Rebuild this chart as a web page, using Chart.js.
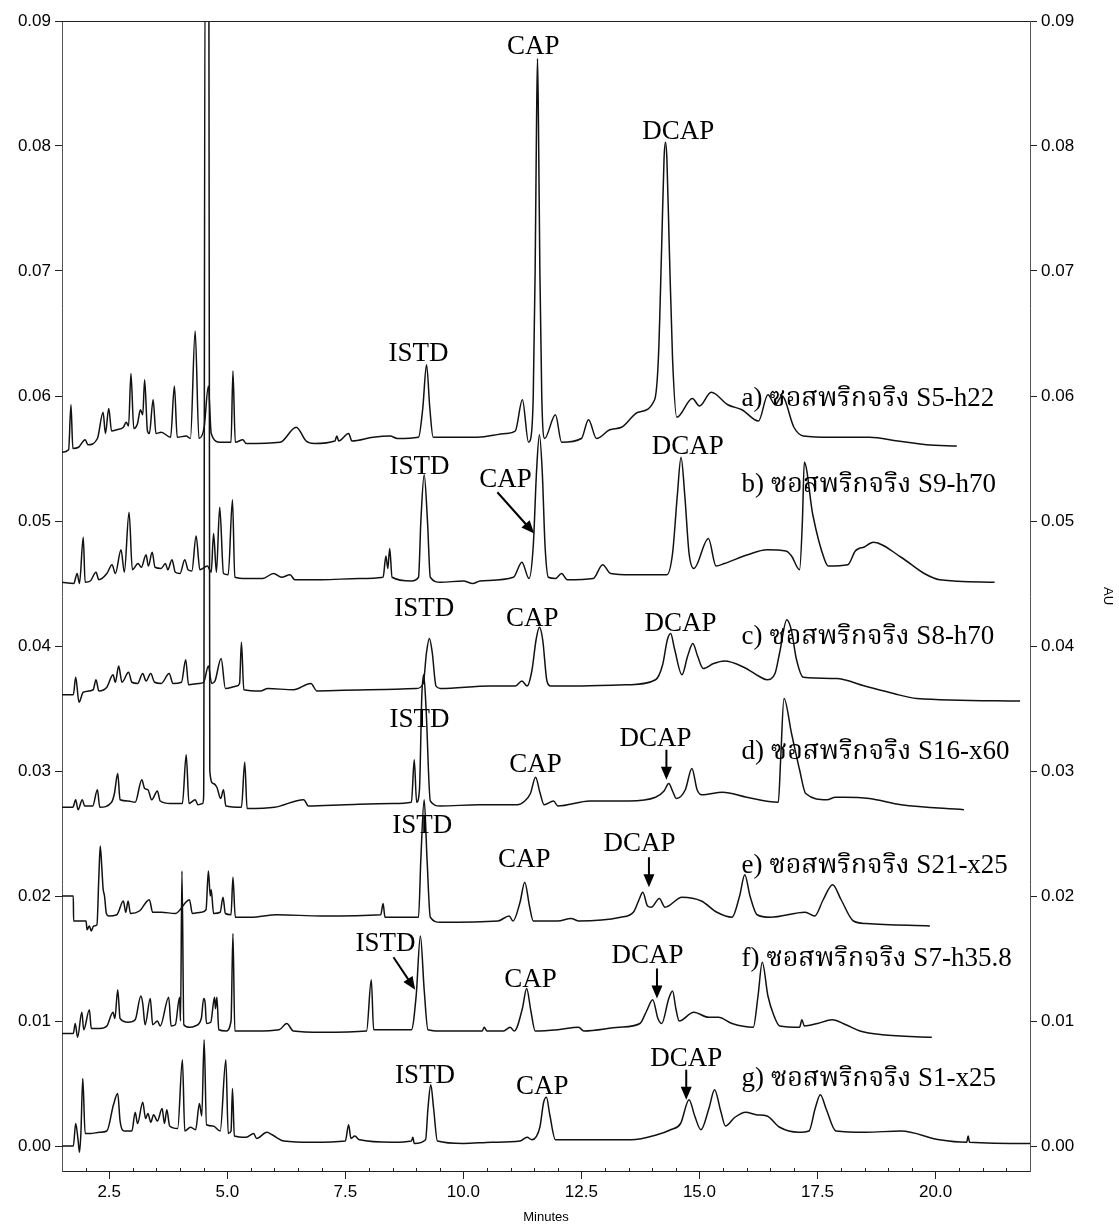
<!DOCTYPE html>
<html>
<head>
<meta charset="utf-8">
<title>HPLC chromatograms</title>
<script src="https://cdn.jsdelivr.net/npm/chart.js@4.4.1/dist/chart.umd.min.js"></script>
<style>
  html, body { margin: 0; padding: 0; background: #fff; }
  #wrap { width: 1119px; height: 1228px; }
</style>
</head>
<body>
<div id="wrap"><canvas id="chart" width="1119" height="1228"></canvas></div>
<script>
// [minutes, AU] pairs, one array per sample
const traceA = [[1.50,0.0555],[1.64,0.0557],[1.69,0.0593],[1.73,0.0558],[1.85,0.0559],[1.99,0.0565],[2.05,0.0561],[2.25,0.0566],[2.37,0.0587],[2.42,0.0570],[2.49,0.0590],[2.55,0.0572],[2.66,0.0573],[2.80,0.0575],[2.86,0.0579],[2.91,0.0576],[2.96,0.0618],[3.02,0.0574],[3.10,0.0578],[3.16,0.0589],[3.21,0.0585],[3.25,0.0613],[3.31,0.0572],[3.35,0.0570],[3.43,0.0597],[3.49,0.0570],[3.60,0.0571],[3.80,0.0567],[3.88,0.0608],[3.94,0.0567],[4.13,0.0568],[4.22,0.0566],[4.32,0.0652],[4.40,0.0566],[4.51,0.0575],[4.60,0.0608],[4.66,0.0570],[4.85,0.0563],[5.08,0.0563],[5.12,0.0620],[5.17,0.0563],[5.33,0.0565],[5.40,0.0562],[6.12,0.0563],[6.46,0.0575],[6.67,0.0564],[6.84,0.0562],[7.28,0.0564],[7.32,0.0568],[7.36,0.0564],[7.57,0.0570],[7.64,0.0564],[8.09,0.0567],[8.45,0.0568],[8.60,0.0566],[9.05,0.0567],[9.14,0.0590],[9.22,0.0625],[9.29,0.0590],[9.36,0.0567],[10.3,0.0567],[10.9,0.0570],[11.10,0.0572],[11.25,0.0597],[11.38,0.0563],[11.42,0.0565],[11.48,0.0600],[11.52,0.0700],[11.55,0.0820],[11.57,0.0870],[11.59,0.0820],[11.62,0.0700],[11.66,0.0600],[11.72,0.0566],[11.95,0.0585],[12.08,0.0563],[12.50,0.0566],[12.65,0.0581],[12.82,0.0566],[13.10,0.0573],[13.35,0.0575],[13.70,0.0587],[14.05,0.0597],[14.13,0.0630],[14.20,0.0720],[14.25,0.0790],[14.28,0.0803],[14.31,0.0790],[14.36,0.0720],[14.43,0.0630],[14.52,0.0583],[14.85,0.0598],[15.00,0.0592],[15.25,0.0603],[15.60,0.0593],[15.90,0.0589],[16.25,0.0580],[16.45,0.0601],[16.60,0.0593],[16.75,0.0600],[17.00,0.0575],[17.20,0.0568],[17.80,0.0567],[18.60,0.0567],[19.20,0.0564],[19.80,0.0561],[20.45,0.0560]];

const traceB = [[1.50,0.0451],[1.75,0.0450],[1.82,0.0458],[1.87,0.0450],[1.95,0.0487],[1.99,0.0451],[2.10,0.0452],[2.22,0.0459],[2.28,0.0453],[2.45,0.0458],[2.56,0.0465],[2.63,0.0458],[2.75,0.0477],[2.82,0.0459],[2.92,0.0507],[2.99,0.0461],[3.11,0.0466],[3.18,0.0463],[3.28,0.0473],[3.33,0.0464],[3.41,0.0475],[3.47,0.0463],[3.60,0.0462],[3.69,0.0466],[3.74,0.0461],[3.83,0.0469],[3.90,0.0459],[4.00,0.0458],[4.10,0.0469],[4.17,0.0461],[4.25,0.0460],[4.34,0.0488],[4.42,0.0461],[4.58,0.0464],[4.66,0.0459],[4.71,0.0490],[4.77,0.0459],[4.84,0.0511],[4.92,0.0458],[5.02,0.0457],[5.11,0.0517],[5.16,0.0455],[5.40,0.0454],[5.75,0.0454],[5.98,0.0458],[6.15,0.0455],[6.33,0.0457],[6.43,0.0453],[7.00,0.0453],[7.80,0.0454],[8.30,0.0455],[8.36,0.0472],[8.40,0.0462],[8.44,0.0478],[8.49,0.0455],[8.90,0.0452],[9.05,0.0455],[9.10,0.0500],[9.17,0.0537],[9.24,0.0500],[9.30,0.0455],[9.51,0.0451],[10.00,0.0452],[10.20,0.0450],[10.35,0.0452],[11.06,0.0455],[11.24,0.0467],[11.39,0.0454],[11.48,0.0480],[11.55,0.0540],[11.61,0.0569],[11.67,0.0540],[11.73,0.0480],[11.80,0.0455],[11.95,0.0454],[12.08,0.0458],[12.20,0.0453],[12.75,0.0454],[12.95,0.0465],[13.12,0.0458],[13.55,0.0457],[14.31,0.0457],[14.43,0.0474],[14.53,0.0520],[14.61,0.0551],[14.69,0.0520],[14.78,0.0474],[14.88,0.0462],[15.19,0.0486],[15.35,0.0464],[15.53,0.0466],[16.02,0.0473],[16.43,0.0477],[16.83,0.0476],[16.95,0.0472],[17.12,0.0461],[17.18,0.0500],[17.22,0.0547],[17.40,0.0505],[17.65,0.0469],[17.73,0.0464],[18.14,0.0465],[18.30,0.0476],[18.38,0.0478],[18.48,0.0479],[18.68,0.0483],[19.27,0.0471],[19.76,0.0458],[20.09,0.0453],[21.25,0.0451]];

const traceC = [[1.50,0.0361],[1.74,0.0361],[1.79,0.0375],[1.86,0.0355],[1.95,0.0363],[2.16,0.0365],[2.22,0.0373],[2.28,0.0364],[2.45,0.0367],[2.58,0.0377],[2.63,0.0371],[2.70,0.0384],[2.77,0.0371],[2.91,0.0379],[2.98,0.0371],[3.10,0.0370],[3.21,0.0378],[3.28,0.0372],[3.38,0.0378],[3.46,0.0371],[3.60,0.0370],[3.77,0.0378],[3.85,0.0370],[4.03,0.0371],[4.12,0.0389],[4.18,0.0369],[4.39,0.0370],[4.50,0.0371],[4.60,0.0384],[4.67,0.0370],[4.74,0.0372],[4.87,0.0390],[4.96,0.0366],[5.20,0.0368],[5.26,0.0370],[5.30,0.0403],[5.35,0.0365],[5.70,0.0364],[5.86,0.0366],[6.40,0.0365],[6.77,0.0370],[6.90,0.0364],[8.00,0.0365],[9.00,0.0366],[9.15,0.0370],[9.22,0.0395],[9.28,0.0406],[9.34,0.0395],[9.42,0.0368],[9.51,0.0366],[10.57,0.0368],[11.10,0.0368],[11.24,0.0372],[11.35,0.0368],[11.45,0.0380],[11.54,0.0405],[11.61,0.0415],[11.68,0.0405],[11.77,0.0372],[11.85,0.0368],[12.50,0.0368],[13.50,0.0369],[14.07,0.0373],[14.22,0.0385],[14.32,0.0405],[14.39,0.0410],[14.47,0.0398],[14.63,0.0377],[14.75,0.0392],[14.86,0.0402],[14.96,0.0392],[15.08,0.0382],[15.30,0.0386],[15.53,0.0388],[15.94,0.0383],[16.25,0.0376],[16.43,0.0373],[16.60,0.0378],[16.70,0.0395],[16.85,0.0421],[16.95,0.0412],[17.05,0.0390],[17.20,0.0375],[17.90,0.0374],[18.50,0.0368],[19.11,0.0362],[19.60,0.0358],[21.79,0.0356]];

const traceD = [[1.50,0.0271],[1.73,0.0271],[1.79,0.0277],[1.84,0.0269],[1.93,0.0277],[1.98,0.0272],[2.15,0.0272],[2.25,0.0285],[2.30,0.0271],[2.55,0.0275],[2.61,0.0282],[2.68,0.0298],[2.73,0.0277],[2.90,0.0276],[3.05,0.0275],[3.19,0.0293],[3.25,0.0286],[3.32,0.0285],[3.40,0.0277],[3.52,0.0284],[3.58,0.0276],[3.80,0.0274],[4.05,0.0274],[4.13,0.0313],[4.19,0.0274],[4.32,0.0277],[4.38,0.0273],[4.48,0.0274],[4.50,0.0280],[4.53,0.0950],[4.61,0.0950],[4.63,0.0300],[4.70,0.0290],[4.78,0.0287],[4.86,0.0278],[4.92,0.0285],[4.97,0.0272],[5.30,0.0271],[5.37,0.0307],[5.42,0.0270],[6.00,0.0271],[6.62,0.0277],[6.72,0.0272],[7.50,0.0273],[8.50,0.0274],[8.90,0.0275],[8.96,0.0309],[9.01,0.0275],[9.07,0.0285],[9.12,0.0360],[9.16,0.0377],[9.21,0.0350],[9.30,0.0276],[9.51,0.0272],[10.33,0.0273],[11.14,0.0273],[11.30,0.0276],[11.42,0.0282],[11.53,0.0295],[11.62,0.0283],[11.71,0.0273],[11.91,0.0276],[12.00,0.0272],[12.68,0.0276],[13.50,0.0276],[14.07,0.0279],[14.25,0.0284],[14.35,0.0290],[14.43,0.0284],[14.51,0.0278],[14.70,0.0285],[14.84,0.0302],[14.95,0.0285],[15.05,0.0281],[15.49,0.0283],[16.00,0.0279],[16.67,0.0275],[16.72,0.0310],[16.79,0.0358],[16.95,0.0330],[17.12,0.0301],[17.25,0.0282],[17.70,0.0277],[17.88,0.0279],[18.05,0.0279],[18.60,0.0278],[19.27,0.0273],[20.60,0.0269]];

const traceE = [[1.50,0.0200],[1.74,0.0200],[1.745,0.0180],[2.01,0.0180],[2.03,0.0173],[2.08,0.0176],[2.12,0.0172],[2.17,0.0176],[2.24,0.0177],[2.28,0.0215],[2.31,0.0240],[2.34,0.0225],[2.37,0.0206],[2.40,0.0200],[2.44,0.0186],[2.49,0.0184],[2.66,0.0185],[2.80,0.0196],[2.85,0.0187],[2.90,0.0196],[2.95,0.0186],[3.14,0.0188],[3.35,0.0197],[3.42,0.0187],[3.60,0.0187],[3.90,0.0186],[4.20,0.0197],[4.26,0.0186],[4.45,0.0187],[4.55,0.0189],[4.60,0.0220],[4.64,0.0200],[4.66,0.0205],[4.71,0.0186],[4.85,0.0187],[4.91,0.0199],[4.96,0.0186],[5.08,0.0185],[5.12,0.0215],[5.17,0.0183],[5.50,0.0183],[6.05,0.0185],[7.00,0.0184],[8.25,0.0185],[8.30,0.0194],[8.34,0.0183],[9.05,0.0183],[9.10,0.0230],[9.17,0.0277],[9.23,0.0230],[9.30,0.0183],[9.51,0.0179],[10.73,0.0180],[10.97,0.0184],[11.05,0.0180],[11.20,0.0195],[11.30,0.0211],[11.40,0.0192],[11.48,0.0180],[12.00,0.0180],[12.28,0.0182],[12.45,0.0180],[13.33,0.0183],[13.60,0.0187],[13.72,0.0197],[13.80,0.0203],[13.90,0.0192],[13.98,0.0191],[14.15,0.0198],[14.27,0.0191],[14.63,0.0199],[15.04,0.0196],[15.37,0.0187],[15.69,0.0183],[15.85,0.0200],[15.96,0.0217],[16.07,0.0200],[16.22,0.0185],[16.50,0.0183],[17.24,0.0187],[17.44,0.0184],[17.62,0.0197],[17.82,0.0209],[18.00,0.0197],[18.26,0.0180],[18.53,0.0178],[19.88,0.0176]];

const traceF = [[1.50,0.0090],[1.74,0.0090],[1.78,0.0098],[1.83,0.0087],[1.92,0.0107],[1.96,0.0093],[2.08,0.0109],[2.12,0.0094],[2.30,0.0094],[2.45,0.0096],[2.58,0.0107],[2.62,0.0102],[2.68,0.0125],[2.73,0.0102],[2.90,0.0099],[3.05,0.0101],[3.17,0.0120],[3.21,0.0114],[3.26,0.0097],[3.37,0.0118],[3.42,0.0097],[3.52,0.0100],[3.58,0.0096],[3.76,0.0119],[3.81,0.0096],[3.90,0.0097],[3.99,0.0119],[4.01,0.0100],[4.04,0.0220],[4.08,0.0097],[4.20,0.0095],[4.32,0.0096],[4.45,0.0102],[4.50,0.0118],[4.53,0.0115],[4.56,0.0098],[4.65,0.0099],[4.73,0.0119],[4.75,0.0110],[4.78,0.0119],[4.82,0.0093],[4.97,0.0092],[5.08,0.0100],[5.12,0.0170],[5.16,0.0092],[5.60,0.0092],[6.10,0.0093],[6.26,0.0098],[6.40,0.0092],[7.00,0.0091],[7.95,0.0092],[8.05,0.0133],[8.10,0.0093],[8.90,0.0093],[9.00,0.0120],[9.09,0.0168],[9.17,0.0125],[9.25,0.0093],[9.51,0.0092],[10.40,0.0092],[10.44,0.0095],[10.50,0.0092],[10.85,0.0092],[10.99,0.0095],[11.08,0.0092],[11.25,0.0110],[11.34,0.0126],[11.43,0.0108],[11.52,0.0092],[12.00,0.0093],[12.44,0.0095],[12.55,0.0092],[13.30,0.0095],[13.74,0.0098],[13.88,0.0108],[14.01,0.0117],[14.12,0.0102],[14.20,0.0098],[14.35,0.0118],[14.43,0.0124],[14.50,0.0110],[14.57,0.0100],[14.88,0.0107],[15.19,0.0103],[15.40,0.0103],[15.69,0.0098],[16.14,0.0095],[16.24,0.0120],[16.33,0.0147],[16.45,0.0120],[16.57,0.0105],[16.70,0.0096],[17.12,0.0095],[17.17,0.0101],[17.22,0.0096],[17.50,0.0098],[17.81,0.0101],[18.10,0.0097],[18.40,0.0092],[18.87,0.0089],[19.92,0.0087]];

const traceG = [[1.50,0.0000],[1.74,0.0000],[1.79,0.0018],[1.84,0.0005],[1.87,-0.0005],[1.90,0.0010],[1.94,0.0054],[1.99,0.0010],[2.10,0.0010],[2.30,0.0011],[2.45,0.0012],[2.59,0.0033],[2.68,0.0042],[2.73,0.0020],[2.82,0.0012],[2.98,0.0012],[3.05,0.0027],[3.10,0.0018],[3.21,0.0035],[3.27,0.0022],[3.32,0.0026],[3.38,0.0019],[3.44,0.0025],[3.52,0.0020],[3.62,0.0030],[3.67,0.0018],[3.72,0.0029],[3.78,0.0016],[3.95,0.0014],[4.05,0.0069],[4.10,0.0012],[4.22,0.0015],[4.33,0.0013],[4.41,0.0034],[4.46,0.0024],[4.51,0.0085],[4.56,0.0017],[4.70,0.0016],[4.85,0.0012],[4.97,0.0069],[5.02,0.0010],[5.08,0.0012],[5.11,0.0046],[5.15,0.0008],[5.40,0.0007],[5.56,0.0010],[5.62,0.0006],[5.84,0.0011],[5.95,0.0009],[6.20,0.0004],[6.80,0.0003],[7.50,0.0004],[7.57,0.0017],[7.62,0.0006],[7.70,0.0008],[7.80,0.0005],[8.50,0.0003],[8.90,0.0004],[8.93,0.0007],[8.96,0.0002],[9.20,0.0005],[9.25,0.0030],[9.31,0.0049],[9.37,0.0030],[9.45,0.0004],[10.00,0.0002],[10.60,0.0003],[11.20,0.0004],[11.35,0.0007],[11.45,0.0005],[11.62,0.0015],[11.70,0.0035],[11.76,0.0039],[11.83,0.0025],[11.95,0.0005],[12.50,0.0005],[13.55,0.0005],[14.10,0.0009],[14.39,0.0013],[14.60,0.0018],[14.78,0.0037],[14.90,0.0024],[15.03,0.0013],[15.20,0.0030],[15.32,0.0045],[15.45,0.0028],[15.55,0.0016],[15.75,0.0023],[15.98,0.0027],[16.20,0.0025],[16.43,0.0024],[16.70,0.0015],[17.10,0.0011],[17.32,0.0012],[17.45,0.0030],[17.56,0.0041],[17.68,0.0030],[17.89,0.0012],[18.52,0.0011],[19.27,0.0012],[20.08,0.0005],[20.66,0.0003],[20.69,0.0008],[20.72,0.0003],[22.00,0.0002]];

const xTicks = [2.5, 5.0, 7.5, 10.0, 12.5, 15.0, 17.5, 20.0];
const yTicks = [0.00, 0.01, 0.02, 0.03, 0.04, 0.05, 0.06, 0.07, 0.08, 0.09];

const sampleNames = [
  'a) ซอสพริกจริง S5-h22',
  'b) ซอสพริกจริง S9-h70',
  'c) ซอสพริกจริง S8-h70',
  'd) ซอสพริกจริง S16-x60',
  'e) ซอสพริกจริง S21-x25',
  'f) ซอสพริกจริง S7-h35.8',
  'g) ซอสพริกจริง S1-x25'
];
const sampleNameAU = [0.0598, 0.0529, 0.0407, 0.0315, 0.0224, 0.0150, 0.0054];
const sampleNameTime = 15.89;

const peakText = ['ISTD', 'CAP', 'DCAP'];
const istdAt = [[9.05,0.0634],[9.07,0.0543],[9.17,0.0430],[9.07,0.0341],[9.13,0.0256],[8.35,0.0162],[9.19,0.0056]];
const capAt  = [[11.48,0.0879],[10.89,0.0533],[11.46,0.0422],[11.53,0.0305],[11.29,0.0229],[11.42,0.0133],[11.67,0.0047]];
const dcapAt = [[14.55,0.0811],[14.75,0.0559],[14.60,0.0418],[14.07,0.0326],[13.73,0.0242],[13.90,0.0152],[14.72,0.0070]];

// arrows: [fromTime, fromAU, toTime, toAU]
const arrows = [
  [10.72, 0.0523, 11.50, 0.0490],
  [14.30, 0.0317, 14.30, 0.0293],
  [13.93, 0.0231, 13.93, 0.0207],
  [8.52, 0.0151, 8.98, 0.0125],
  [14.10, 0.0142, 14.10, 0.0118],
  [14.72, 0.0061, 14.72, 0.0037]
];

const traces = [traceA, traceB, traceC, traceD, traceE, traceF, traceG];

const serif = '"Liberation Serif", "Times New Roman", "Noto Serif Thai", "Noto Sans Thai", serif';
const sans = '"Liberation Sans", Arial, sans-serif';

const annotate = {
  id: 'annotate',
  afterDatasetsDraw(chart) {
    const { ctx, scales: { x, y } } = chart;
    ctx.save();
    ctx.fillStyle = '#000';
    ctx.strokeStyle = '#000';
    ctx.textBaseline = 'middle';
    ctx.font = '27px ' + serif;
    ctx.textAlign = 'center';
    [istdAt, capAt, dcapAt].forEach((list, k) => {
      list.forEach(([t, v]) => ctx.fillText(peakText[k], x.getPixelForValue(t), y.getPixelForValue(v)));
    });
    ctx.textAlign = 'left';
    sampleNames.forEach((name, i) => {
      ctx.fillText(name, x.getPixelForValue(sampleNameTime), y.getPixelForValue(sampleNameAU[i]));
    });
    ctx.lineWidth = 2;
    arrows.forEach(([t1, v1, t2, v2]) => {
      const x1 = x.getPixelForValue(t1), y1 = y.getPixelForValue(v1);
      const x2 = x.getPixelForValue(t2), y2 = y.getPixelForValue(v2);
      const ang = Math.atan2(y2 - y1, x2 - x1);
      const head = 13;
      ctx.beginPath();
      ctx.moveTo(x1, y1);
      ctx.lineTo(x2 - Math.cos(ang) * head * 0.8, y2 - Math.sin(ang) * head * 0.8);
      ctx.stroke();
      ctx.beginPath();
      ctx.moveTo(x2, y2);
      ctx.lineTo(x2 - head * Math.cos(ang) + 5.5 * Math.sin(ang), y2 - head * Math.sin(ang) - 5.5 * Math.cos(ang));
      ctx.lineTo(x2 - head * Math.cos(ang) - 5.5 * Math.sin(ang), y2 - head * Math.sin(ang) + 5.5 * Math.cos(ang));
      ctx.closePath();
      ctx.fill();
    });
    ctx.restore();
  }
};

// top frame line and small inward minor ticks on the time axis
const frame = {
  id: 'frame',
  afterDraw(chart) {
    const { ctx, chartArea: a, scales: { x } } = chart;
    ctx.save();
    ctx.strokeStyle = '#222';
    ctx.lineWidth = 1;
    ctx.beginPath();
    ctx.moveTo(a.left, a.top + 0.5);
    ctx.lineTo(a.right, a.top + 0.5);
    for (let t = 2.0; t < 22.0; t += 0.5) {
      if (xTicks.includes(t)) continue;
      const px = Math.round(x.getPixelForValue(t)) + 0.5;
      ctx.moveTo(px, a.bottom);
      ctx.lineTo(px, a.bottom - 3);
    }
    ctx.stroke();
    ctx.restore();
  }
};

const yAxis = (pos, width) => ({
  type: 'linear',
  position: pos,
  min: -0.002,
  max: 0.09,
  afterBuildTicks: s => { s.ticks = yTicks.map(v => ({ value: v })); },
  afterFit: s => { s.width = width; },
  grid: { drawOnChartArea: false, drawTicks: true, tickLength: 7, tickColor: '#222' },
  border: { display: true, color: '#555', width: 1, dash: [10.5, 2] },
  ticks: {
    callback: v => v.toFixed(2),
    font: { family: sans, size: 17 },
    color: '#000',
    padding: 4
  }
});

const y2 = yAxis('right', 89);
y2.title = { display: true, text: 'AU', font: { family: sans, size: 13 }, color: '#000', padding: 4 };

new Chart(document.getElementById('chart'), {
  type: 'line',
  data: {
    datasets: traces.map(tr => ({
      data: tr,
      borderColor: '#111',
      borderWidth: 1.5,
      pointRadius: 0,
      cubicInterpolationMode: 'monotone',
      fill: false
    }))
  },
  options: {
    responsive: false,
    animation: false,
    devicePixelRatio: 1,
    layout: { padding: { top: 21, left: 0, right: 0, bottom: 0 } },
    plugins: { legend: { display: false }, tooltip: { enabled: false } },
    scales: {
      x: {
        type: 'linear',
        min: 1.5,
        max: 22.0,
        afterBuildTicks: s => { s.ticks = xTicks.map(v => ({ value: v })); },
        afterFit: s => { s.height = 57; },
        grid: { drawOnChartArea: false, drawTicks: true, tickLength: 8, tickColor: '#222' },
        border: { display: true, color: '#222', width: 1 },
        ticks: {
          callback: v => v.toFixed(1),
          font: { family: sans, size: 17 },
          color: '#000',
          padding: 3,
          maxRotation: 0,
          autoSkip: false
        },
        title: { display: true, text: 'Minutes', font: { family: sans, size: 13 }, color: '#000', padding: { top: 0, bottom: 3 } }
      },
      y: yAxis('left', 62),
      y2: y2
    }
  },
  plugins: [annotate, frame]
});
</script>
</body>
</html>
